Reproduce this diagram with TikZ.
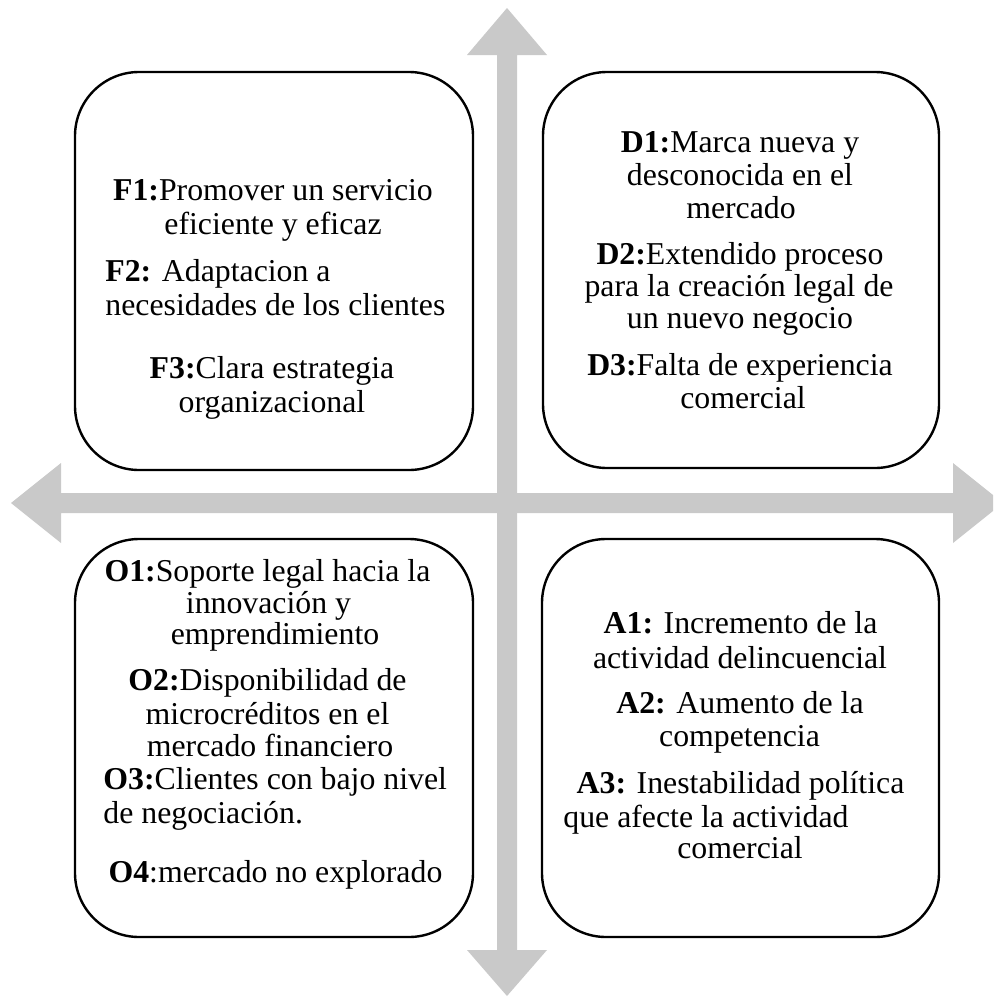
\documentclass[tikz,border=0pt]{standalone}
\usepackage{fontspec}
\setmainfont{Liberation Serif}
\definecolor{axisgray}{RGB}{201,201,201}
\tikzset{
  quad/.style={draw=black, line width=1.2pt, rounded corners=32pt, fill=white, inner sep=0pt},
  txt/.style={font=\fontsize{15.9pt}{17pt}\selectfont, inner sep=0pt, anchor=base},
  txtl/.style={txt, anchor=base west}
}
\begin{document}
\begin{tikzpicture}[x=0.5pt,y=-0.5pt]
\useasboundingbox (0,0) rectangle (993,997);
\clip (0,0) rectangle (993,997);
\fill[white] (0,0) rectangle (993,997);
% axes (double-headed block arrows)
\fill[axisgray] (507,8) -- (547,55) -- (517,55) -- (517,950) -- (547,950) -- (507,996)
  -- (467,950) -- (497,950) -- (497,55) -- (467,55) -- cycle;
\fill[axisgray] (11,503) -- (61,463) -- (61,493) -- (953,493) -- (953,463) -- (1003,503)
  -- (953,543) -- (953,513) -- (61,513) -- (61,543) -- cycle;
% quadrant boxes
\node[quad, minimum width=199pt, minimum height=199pt] (fbox) at (274,271) {};
\node[quad, minimum width=198pt, minimum height=198pt] (dbox) at (741,270) {};
\node[quad, minimum width=199pt, minimum height=199pt] (obox) at (274,738) {};
\node[quad, minimum width=198.5pt, minimum height=199pt] (abox) at (740.5,738) {};
% Fortalezas
\node[txt] (f1a) at (273,200) {\textbf{F1:}Promover un servicio};
\node[txt] (f1b) at (273,234) {eficiente y eficaz};
\node[txtl] (f2a) at (105,281) {\textbf{F2:} Adaptacion a};
\node[txtl] (f2b) at (105,315) {necesidades de los clientes};
\node[txt] (f3a) at (272,378) {\textbf{F3:}Clara estrategia};
\node[txt] (f3b) at (272,412) {organizacional};
% Debilidades
\node[txt] (d1a) at (740,152) {\textbf{D1:}Marca nueva y};
\node[txt] (d1b) at (740,185) {desconocida en el};
\node[txt] (d1c) at (741,218) {mercado};
\node[txt] (d2a) at (740,264) {\textbf{D2:}Extendido proceso};
\node[txt] (d2b) at (739,296) {para la creación legal de};
\node[txt] (d2c) at (740,328) {un nuevo negocio};
\node[txt] (d3a) at (740,375) {\textbf{D3:}Falta de experiencia};
\node[txt] (d3b) at (743,408) {comercial};
% Oportunidades
\node[txt] (o1a) at (267.5,581) {\textbf{O1:}Soporte legal hacia la};
\node[txt] (o1b) at (268.5,613) {innovación y};
\node[txt] (o1c) at (275,644) {emprendimiento};
\node[txt] (o2a) at (267.5,690) {\textbf{O2:}Disponibilidad de};
\node[txt] (o2b) at (267.5,724) {microcréditos en el};
\node[txt] (o2c) at (270,756) {mercado financiero};
\node[txtl] (o3a) at (103,789) {\textbf{O3:}Clientes con bajo nivel};
\node[txtl] (o3b) at (103,823) {de negociación.};
\node[txt] (o4) at (275.5,882) {\textbf{O4}:mercado no explorado};
% Amenazas
\node[txt] (a1a) at (740.5,633) {\textbf{A1:} Incremento de la};
\node[txt] (a1b) at (740,668) {actividad delincuencial};
\node[txt] (a2a) at (740,713) {\textbf{A2:} Aumento de la};
\node[txt] (a2b) at (739.5,746) {competencia};
\node[txt] (a3a) at (740.5,793) {\textbf{A3:} Inestabilidad política};
\node[txtl] (a3b) at (563,827) {que afecte la actividad};
\node[txt] (a3c) at (740,858) {comercial};
\end{tikzpicture}
\end{document}
